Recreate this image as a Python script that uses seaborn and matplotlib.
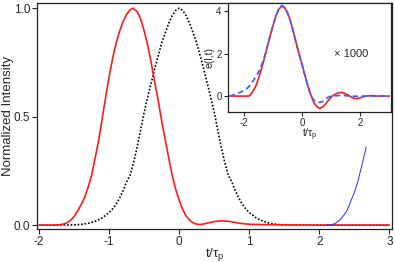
import numpy as np
import matplotlib
matplotlib.use("Agg")
import matplotlib.pyplot as plt
import seaborn as sns

# main panel: normalized intensity vs t/tau_p
t_red = [-2.0, -1.9, -1.8, -1.7, -1.65, -1.6, -1.55, -1.5, -1.45, -1.4, -1.35, -1.3, -1.25,
         -1.2, -1.15, -1.1, -1.05, -1.0, -0.95, -0.9, -0.85, -0.8, -0.75, -0.7, -0.66, -0.6,
         -0.55, -0.5, -0.45, -0.4, -0.35, -0.3, -0.25, -0.2, -0.15, -0.1, -0.05, 0.0, 0.05,
         0.1, 0.15, 0.2, 0.25, 0.3, 0.35, 0.4, 0.5, 0.6, 0.7, 0.8, 0.9, 1.0, 1.2, 1.5, 2.0, 3.0]
i_red = [0.0, 0.0, 0.0, 0.002, 0.005, 0.011, 0.022, 0.04, 0.065, 0.094, 0.128, 0.175, 0.23,
         0.31, 0.39, 0.49, 0.59, 0.685, 0.77, 0.84, 0.895, 0.94, 0.972, 0.993, 1.0, 0.985,
         0.95, 0.895, 0.83, 0.75, 0.66, 0.575, 0.48, 0.395, 0.31, 0.23, 0.165, 0.115, 0.072,
         0.042, 0.022, 0.01, 0.004, 0.003, 0.005, 0.009, 0.016, 0.02, 0.018, 0.012, 0.007,
         0.004, 0.002, 0.001, 0.0, 0.0]

t_ref = [-2.0, -1.7, -1.5, -1.4, -1.3, -1.2, -1.1, -1.0, -0.95, -0.9, -0.85, -0.8, -0.75,
         -0.7, -0.65, -0.6, -0.55, -0.5, -0.45, -0.4, -0.35, -0.3, -0.25, -0.2, -0.15, -0.1,
         -0.05, 0.0, 0.05, 0.1, 0.15, 0.2, 0.25, 0.3, 0.35, 0.4, 0.45, 0.5, 0.55, 0.6, 0.65,
         0.7, 0.75, 0.8, 0.85, 0.9, 0.95, 1.0, 1.1, 1.2, 1.3, 1.4, 1.5, 1.7, 2.0, 3.0]
i_ref = [0.0, 0.0, 0.001, 0.003, 0.008, 0.017, 0.033, 0.058, 0.075, 0.097, 0.125, 0.16, 0.2,
         0.23, 0.29, 0.36, 0.44, 0.52, 0.59, 0.655, 0.72, 0.78, 0.84, 0.885, 0.93, 0.965,
         0.99, 1.0, 0.99, 0.965, 0.93, 0.885, 0.84, 0.78, 0.72, 0.655, 0.59, 0.52, 0.44, 0.36,
         0.29, 0.23, 0.2, 0.16, 0.125, 0.097, 0.075, 0.058, 0.033, 0.017, 0.008, 0.003, 0.001,
         0.0, 0.0, 0.0]

t_blue = [2.1, 2.15, 2.2, 2.25, 2.3, 2.35, 2.4, 2.45, 2.5, 2.55, 2.6, 2.67]
i_blue = [0.0, 0.0, 0.004, 0.012, 0.026, 0.045, 0.07, 0.11, 0.15, 0.2, 0.265, 0.36]

# inset: field e(l,t) x 1000
t_in = [-2.5, -2.3, -2.1, -1.9, -1.85, -1.8, -1.7, -1.6, -1.5, -1.4, -1.3, -1.2, -1.1, -1.0,
        -0.9, -0.8, -0.7, -0.6, -0.5, -0.4, -0.3, -0.2, -0.1, 0.0, 0.1, 0.2, 0.3, 0.4, 0.5,
        0.6, 0.7, 0.8, 0.9, 1.0, 1.1, 1.2, 1.3, 1.4, 1.5, 1.6, 1.7, 1.8, 1.9, 2.0, 2.1, 2.2,
        2.4, 2.6, 3.0]
e_red = [0.0, 0.0, 0.0, 0.0, 0.0, 0.03, 0.22, 0.47, 0.85, 1.3, 1.8, 2.35, 2.85, 3.35,
         3.8, 4.1, 4.24, 4.15, 3.9, 3.5, 3.0, 2.45, 1.95, 1.45, 0.95, 0.45, 0.05, -0.3, -0.5,
         -0.58, -0.52, -0.38, -0.2, -0.04, 0.06, 0.13, 0.17, 0.16, 0.1, 0.03, -0.05, -0.11,
         -0.12, -0.08, -0.03, 0.0, 0.02, 0.0, 0.0]
e_blue = [0.0, 0.08, 0.2, 0.36, 0.43, 0.5, 0.7, 0.9, 1.15, 1.45, 1.85, 2.35, 2.85, 3.35,
          3.8, 4.12, 4.27, 4.17, 3.9, 3.5, 3.0, 2.45, 1.95, 1.45, 0.93, 0.42, 0.02, -0.2,
          -0.28, -0.3, -0.26, -0.15, -0.05, 0.0, 0.01, 0.02, 0.03, 0.03, 0.02, 0.01, 0.0,
          -0.01, -0.01, 0.0, 0.0, 0.0, 0.0, 0.0, 0.0]

sns.set_style("ticks")
plt.rcParams['font.family'] = ['Liberation Sans', 'DejaVu Sans']
plt.rcParams['mathtext.fontset'] = 'custom'
plt.rcParams['mathtext.rm'] = 'Liberation Sans'
plt.rcParams['mathtext.it'] = 'Liberation Sans'

fig = plt.figure(figsize=(3.95, 2.62), dpi=100)
ax = fig.add_axes([0.0937, 0.126, 0.899, 0.8625])

sns.lineplot(x=t_ref, y=i_ref, ax=ax, color='black', lw=1.2, linestyle=(0, (1, 1.1)),
             estimator=None, sort=False)
sns.lineplot(x=t_red, y=i_red, ax=ax, color='#ff1a1a', lw=1.2, estimator=None, sort=False)
sns.lineplot(x=t_blue, y=i_blue, ax=ax, color='#2a2aff', lw=0.7, estimator=None, sort=False)

ax.set_xlim(-2.03, 3.04)
ax.set_ylim(-0.018, 1.024)
ax.set_xticks([-2, -1, 0, 1, 2, 3])
ax.set_xticklabels(['-2', '-1', '0', '1', '2', '3'])
ax.set_yticks([0.0, 0.5, 1.0])
ax.set_yticklabels(['0.0', '0.5', '1.0'])
ax.tick_params(labelsize=8.5, length=3.5, width=0.8, pad=1.5, color='#222222')
ax.set_xlabel(r'$\mathregular{t/\tau_p}$', fontsize=9.5)
ax.xaxis.set_label_coords(0.5, -0.075)
ax.set_ylabel('Normalized Intensity', fontsize=9.5)
ax.yaxis.set_label_coords(-0.066, 0.5)
for s in ax.spines.values():
    s.set_linewidth(0.9)
    s.set_color('#222222')

# inset
ax_in = fig.add_axes([0.577, 0.5725, 0.413, 0.416])
sns.lineplot(x=t_in, y=e_red, ax=ax_in, color='#ff1a1a', lw=1.2, estimator=None, sort=False)
sns.lineplot(x=t_in, y=e_blue, ax=ax_in, color='#4060ff', lw=1.3, linestyle=(0, (3, 2)),
             estimator=None, sort=False)
ax_in.set_xlim(-2.56, 3.06)
ax_in.set_ylim(-0.75, 4.38)
ax_in.set_xticks([-2, 0, 2])
ax_in.set_xticklabels(['-2', '0', '2'])
ax_in.set_yticks([0, 2, 4])
ax_in.set_yticklabels(['0', '2', '4'])
ax_in.tick_params(labelsize=7, length=3, width=0.8, pad=1.5, color='#222222')
ax_in.set_xlabel(r'$\mathregular{t/\tau_p}$', fontsize=7.5, labelpad=-1)
ax_in.set_ylabel('e(l,t)', fontsize=7.5, labelpad=1)
ax_in.text(1.7, 2.0, '× 1000', fontsize=8, ha='center', va='center')
for s in ax_in.spines.values():
    s.set_linewidth(0.9)
    s.set_color('#222222')

fig.savefig('out.png', dpi=100)
